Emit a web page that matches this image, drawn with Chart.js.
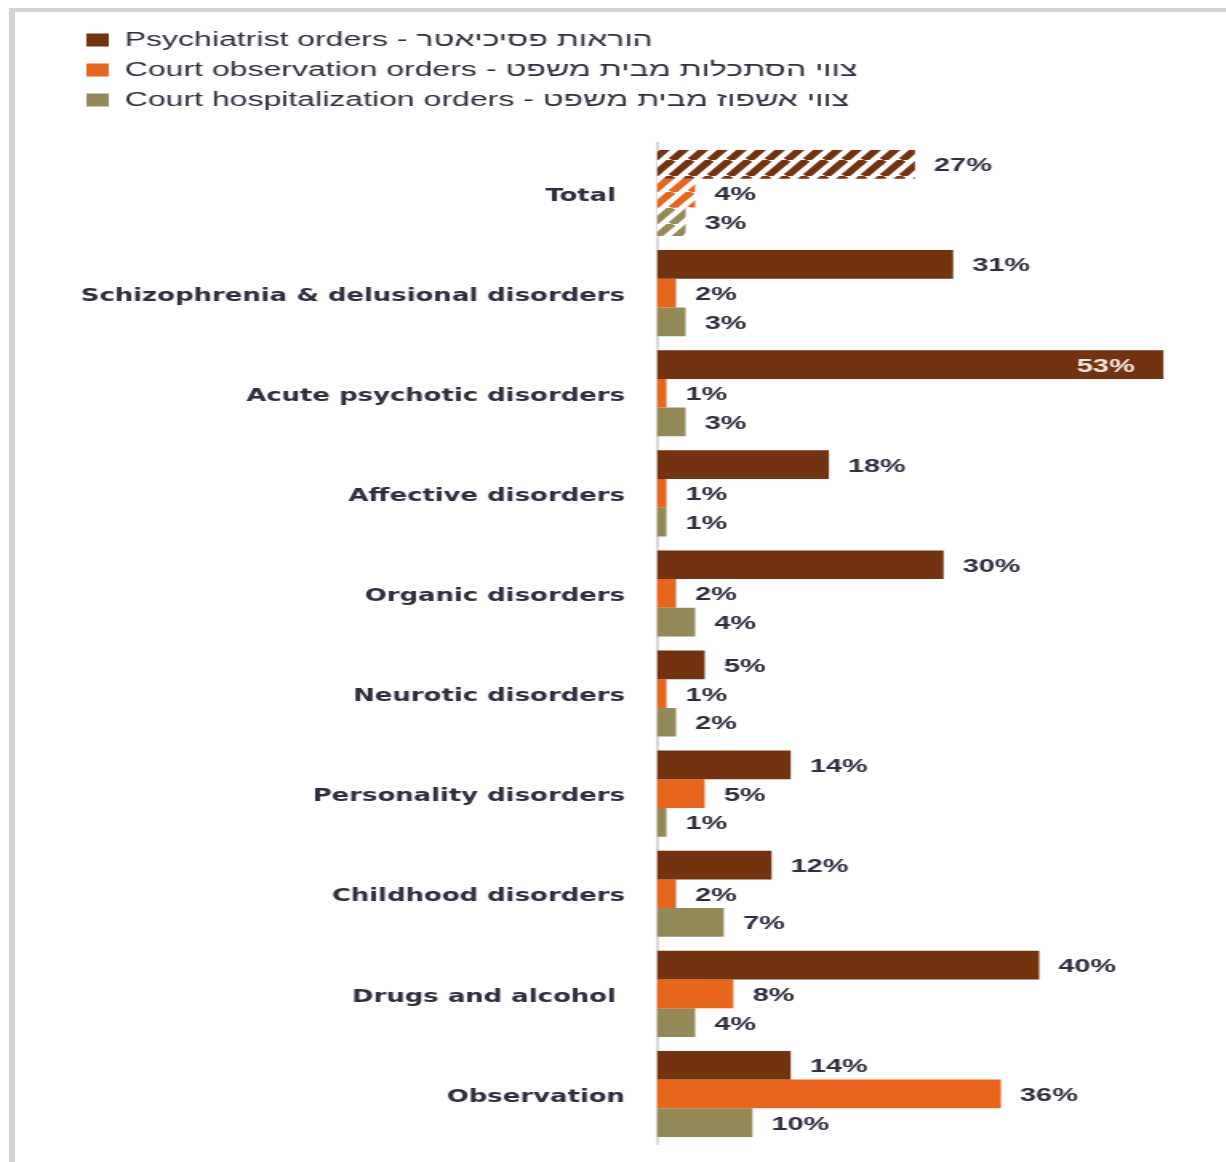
<!DOCTYPE html>
<html>
<head>
<meta charset="utf-8">
<script src="https://cdn.jsdelivr.net/npm/chart.js@4"></script>
<style>
  html, body { margin: 0; padding: 0; background: #fff; }
  body { width: 1226px; height: 1162px; position: relative; overflow: hidden; }
  #frame { position: absolute; left: 9px; top: 8px; right: -10px; bottom: -10px;
           border-left: 6px solid #d5d5d5; border-top: 4px solid #d5d5d5; }
  /* the chart is laid out narrow and widened horizontally */
  #stretch { position: absolute; left: 0; top: 0; width: 766px; height: 1162px;
             transform: scaleX(1.6); transform-origin: 0 0; }
</style>
</head>
<body>
<div id="frame"></div>
<div id="stretch"><canvas id="c"></canvas></div>
<script>
// Diagnosis groups (y axis)
const categories = [
  'Total ',
  'Schizophrenia & delusional disorders',
  'Acute psychotic disorders',
  'Affective disorders',
  'Organic disorders',
  'Neurotic disorders',
  'Personality disorders',
  'Childhood disorders',
  'Drugs and alcohol ',
  'Observation'
];

// Share of admissions by order type, in percent
const psychiatristOrders         = [27, 31, 53, 18, 30, 5, 14, 12, 40, 14];
const courtObservationOrders     = [4, 2, 1, 1, 2, 1, 5, 2, 8, 36];
const courtHospitalizationOrders = [3, 3, 3, 1, 4, 2, 1, 7, 4, 10];

const seriesNames = [
  'Psychiatrist orders - הוראות פסיכיאטר',
  'Court observation orders - צווי הסתכלות מבית משפט',
  'Court hospitalization orders - צווי אשפוז מבית משפט'
];
const seriesColors = ['#74330f', '#e8661c', '#948a58'];

const canvas = document.getElementById('c');
const baseCtx = canvas.getContext('2d');

// Diagonal stripes used for the "Total" row
function makeHatch(color) {
  const w = 12, h = 16;
  const tile = document.createElement('canvas');
  tile.width = w; tile.height = h;
  const g = tile.getContext('2d');
  g.fillStyle = '#ffffff';
  g.fillRect(0, 0, w, h);
  g.strokeStyle = color;
  g.lineWidth = 5.5;
  for (const dx of [-w, 0, w]) {
    g.beginPath();
    g.moveTo(dx, h);
    g.lineTo(dx + w, 0);
    g.stroke();
  }
  return baseCtx.createPattern(tile, 'repeat');
}
const hatches = seriesColors.map(makeHatch);

const seriesData = [psychiatristOrders, courtObservationOrders, courtHospitalizationOrders];

const datasets = seriesData.map((values, i) => ({
  label: seriesNames[i],
  data: values,
  backgroundColor: (c) => (c.dataIndex === 0 ? hatches[i] : seriesColors[i]),
  borderWidth: 0,
  barPercentage: 1,
  categoryPercentage: 0.86
}));

const labelColor = '#2e2e3e';

// Percent labels next to (or inside) each bar
const valueLabels = {
  id: 'valueLabels',
  afterDatasetsDraw(chart) {
    const ctx = chart.ctx;
    ctx.save();
    ctx.font = 'bold 18px "Liberation Sans", Arial, sans-serif';
    ctx.textBaseline = 'middle';
    chart.data.datasets.forEach((ds, di) => {
      const meta = chart.getDatasetMeta(di);
      meta.data.forEach((bar, i) => {
        const text = ds.data[i] + '%';
        const w = ctx.measureText(text).width;
        if (bar.x + 12 + w > chart.width) {
          ctx.textAlign = 'right';
          ctx.fillStyle = '#f4e8e0';
          ctx.fillText(text, bar.x - 18, bar.y + 2);
        } else {
          ctx.textAlign = 'left';
          ctx.fillStyle = labelColor;
          ctx.fillText(text, bar.x + 12, bar.y + 2);
        }
      });
    });
    ctx.restore();
  }
};

new Chart(canvas, {
  type: 'bar',
  data: { labels: categories, datasets },
  options: {
    indexAxis: 'y',
    responsive: true,
    maintainAspectRatio: false,
    devicePixelRatio: 1,
    animation: false,
    layout: { padding: { left: 44, top: 20, right: 9, bottom: 18 } },
    plugins: {
      tooltip: { enabled: false },
      legend: {
        position: 'top',
        align: 'start',
        labels: {
          boxWidth: 14,
          boxHeight: 13,
          padding: 10,
          color: labelColor,
          font: { family: '"Liberation Sans", Arial, sans-serif', size: 20 },
          generateLabels(chart) {
            const items = Chart.defaults.plugins.legend.labels.generateLabels(chart);
            items.forEach((it, i) => {
              it.fillStyle = seriesColors[i];
              it.strokeStyle = seriesColors[i];
              it.lineWidth = 0;
            });
            return items;
          }
        }
      }
    },
    scales: {
      x: {
        position: 'top',
        min: 0,
        max: 58,
        grid: { display: false, drawTicks: false },
        border: { display: false },
        ticks: { display: false },
        afterFit(scale) { scale.height = 23; }
      },
      y: {
        grid: { display: false, drawTicks: false },
        border: { display: true, color: '#d9d9d9', width: 2 },
        ticks: {
          padding: 20,
          labelOffset: 3,
          color: labelColor,
          font: { family: '"DejaVu Sans Condensed", "DejaVu Sans", Verdana, sans-serif', size: 18, weight: 'bold' }
        },
        afterFit(scale) {
          scale.width = 366.6;
          scale.paddingTop = 0;
          scale.paddingBottom = 0;
        }
      }
    }
  },
  plugins: [valueLabels]
});
</script>
</body>
</html>
